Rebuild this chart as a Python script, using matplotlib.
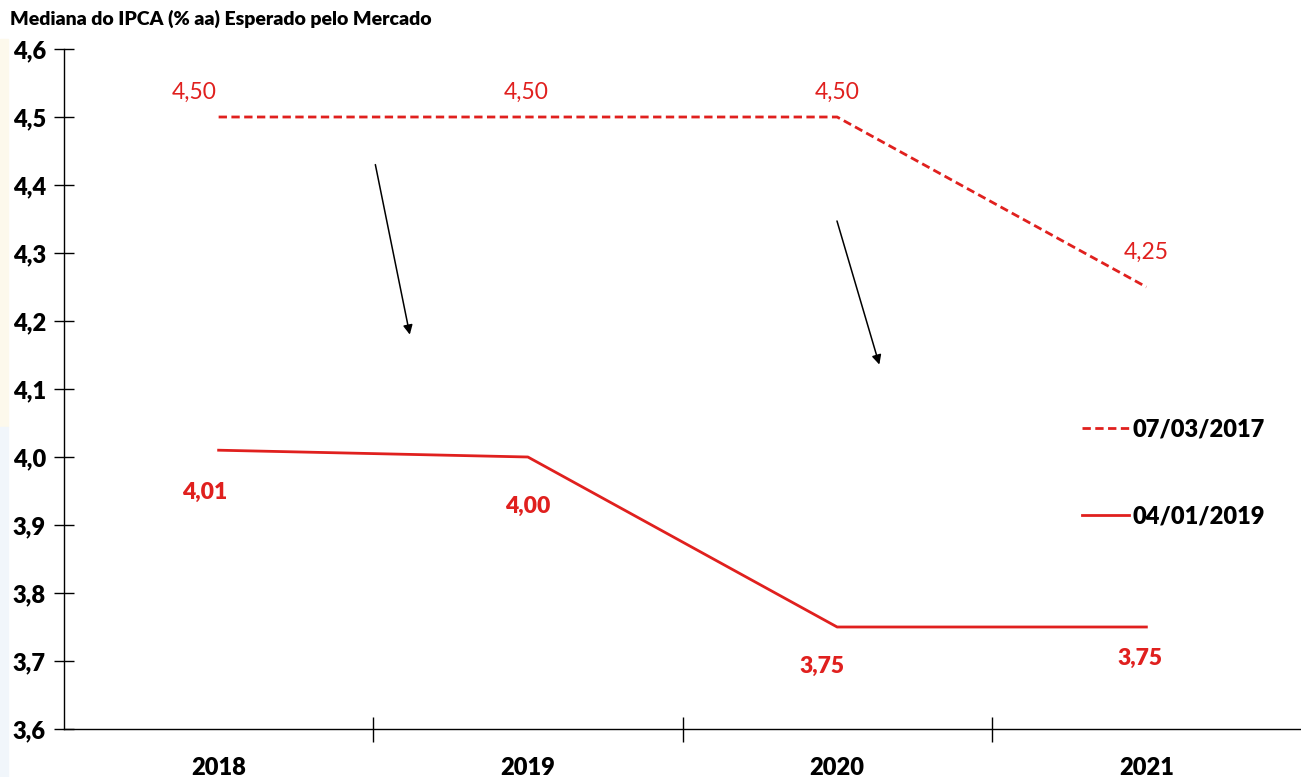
import matplotlib
matplotlib.use('Agg')
import matplotlib.pyplot as plt
from matplotlib.patches import Rectangle

# Data
years = ['2018', '2019', '2020', '2021']
ipca_2017 = [4.50, 4.50, 4.50, 4.25]   # expectativa em 07/03/2017
ipca_2019 = [4.01, 4.00, 3.75, 3.75]   # expectativa em 04/01/2019
labels_series = ['07/03/2017', '04/01/2019']

RED = '#e0201e'
FONT = 'Lato'
BOLD = 'heavy'


def fmt(v):
    return f'{v:.2f}'.replace('.', ',')


def plot_data():
    fig = plt.figure(figsize=(13.01, 7.77), dpi=100)
    fig.patch.set_facecolor('white')

    # faint leftover slide background on the left edge
    fig.patches.append(Rectangle((0, 0.45), 0.006, 0.5, transform=fig.transFigure,
                                 color='#fdf9ec', zorder=0))
    fig.patches.append(Rectangle((0, 0.0), 0.006, 0.45, transform=fig.transFigure,
                                 color='#f1f6fb', zorder=0))

    ax = fig.add_axes([64 / 1301, 1 - 729 / 777, 1 - 64 / 1301, 680 / 777])
    x = list(range(len(years)))

    ax.plot(x, ipca_2017, color=RED, lw=2.0, ls=(0, (3, 1.6)), label=labels_series[0])
    ax.plot(x, ipca_2019, color=RED, lw=2.0, ls='-', label=labels_series[1])

    # data labels
    offs_top = [(-24, 25), (-2, 25), (0, 25), (0, 35)]
    for xi, v, (dx, dy) in zip(x, ipca_2017, offs_top):
        ax.annotate(fmt(v), (xi, v), xytext=(dx * 0.72, dy * 0.72), textcoords='offset points',
                    ha='center', va='center', color=RED, fontsize=16.5, family=FONT)
    offs_bot = [(-14, -42), (0, -49), (-15, -39), (-6, -31)]
    for xi, v, (dx, dy) in zip(x, ipca_2019, offs_bot):
        ax.annotate(fmt(v), (xi, v), xytext=(dx * 0.72, dy * 0.72), textcoords='offset points',
                    ha='center', va='center', color=RED, fontsize=16.5, family=FONT,
                    fontweight=BOLD)

    # arrows showing the downward revision
    ax.annotate('', xy=(0.62, 4.176), xytext=(0.505, 4.434),
                arrowprops=dict(arrowstyle='-|>', color='black', lw=1.1, mutation_scale=14))
    ax.annotate('', xy=(2.139, 4.132), xytext=(1.997, 4.351),
                arrowprops=dict(arrowstyle='-|>', color='black', lw=1.1, mutation_scale=14))

    ax.set_xlim(-0.5, 3.5)
    ax.set_ylim(3.6, 4.6)

    ax.spines['top'].set_visible(False)
    ax.spines['right'].set_visible(False)
    ax.spines['left'].set_linewidth(1.0)
    ax.spines['bottom'].set_linewidth(1.0)

    yt = [3.6 + 0.1 * i for i in range(11)]
    ax.set_yticks(yt)
    ax.set_yticklabels([f'{t:.1f}'.replace('.', ',') for t in yt],
                       fontsize=17, fontweight=BOLD, family=FONT)
    ax.tick_params(axis='y', direction='inout', length=14, width=1, pad=6)

    # category boundaries as major ticks, year labels as minor ticks
    ax.set_xticks([0.5, 1.5, 2.5])
    ax.set_xticklabels([])
    ax.set_xticks(x, minor=True)
    ax.set_xticklabels(years, minor=True, fontsize=17, fontweight=BOLD, family=FONT)
    ax.tick_params(axis='x', which='major', direction='inout', length=18, width=1)
    ax.tick_params(axis='x', which='minor', length=0, pad=20)

    ax.legend(loc='upper left', bbox_to_anchor=(0.823, 0.457), frameon=False,
              borderaxespad=0, borderpad=0, handlelength=2.0, handletextpad=0.15,
              labelspacing=2.75, prop={'family': FONT, 'weight': BOLD, 'size': 17})

    fig.text(10 / 1301, 1 - 19 / 777, 'Mediana do IPCA (% aa) Esperado pelo Mercado',
             fontsize=14, fontweight=BOLD, family=FONT, va='center', ha='left')

    fig.savefig('out.png', dpi=100)


if __name__ == '__main__':
    plot_data()
